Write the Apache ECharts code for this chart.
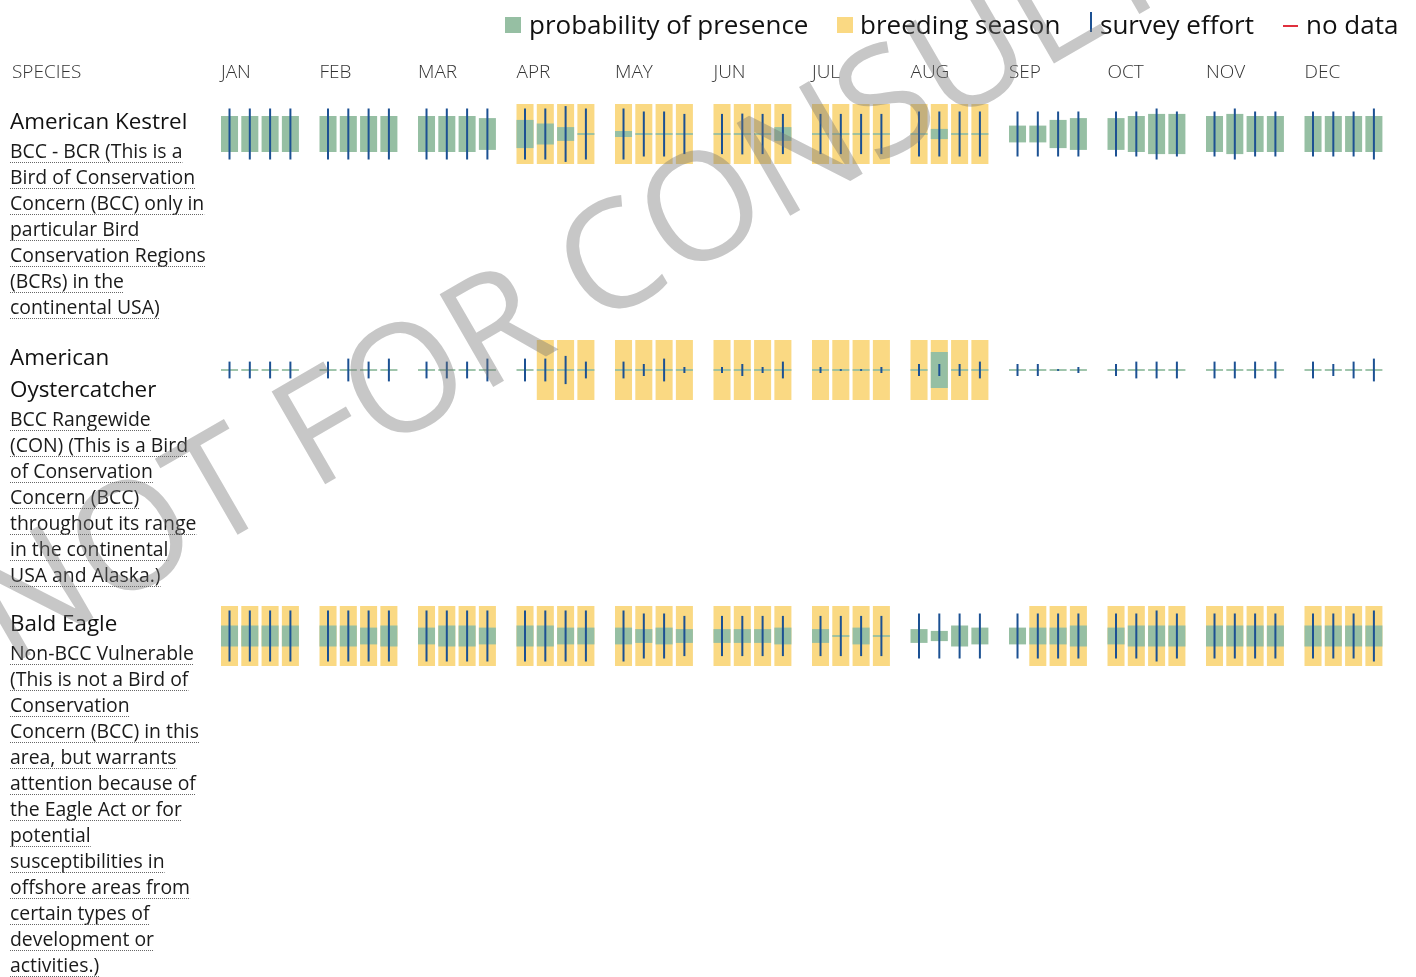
<!DOCTYPE html>
<html>
<head>
<meta charset="utf-8">
<style>
  html, body { margin: 0; padding: 0; background: #fff; }
  #chart { width: 1416px; height: 977px; }
</style>
<script src="https://cdn.jsdelivr.net/npm/echarts@6/dist/echarts.min.js"></script>
</head>
<body>
<div id="chart"></div>
<script>
const months = ['JAN', 'FEB', 'MAR', 'APR', 'MAY', 'JUN', 'JUL', 'AUG', 'SEP', 'OCT', 'NOV', 'DEC']

// probability of presence per week (share of the row height)
const kestrelPresence = [
  [0.6, 0.6, 0.6, 0.6], [0.6, 0.6, 0.6, 0.6], [0.6, 0.6, 0.6, 0.53], [0.47, 0.35, 0.23, 0.03],
  [0.1, 0.03, 0.03, 0.03], [0.03, 0.03, 0.03, 0.23], [0.03, 0.03, 0.03, 0.03], [0.03, 0.17, 0.03, 0.03],
  [0.28, 0.28, 0.47, 0.53], [0.53, 0.6, 0.67, 0.67], [0.6, 0.67, 0.6, 0.6], [0.6, 0.6, 0.6, 0.6]
]
const kestrelEffort = [
  [0.85, 0.85, 0.85, 0.85], [0.85, 0.85, 0.85, 0.85], [0.85, 0.85, 0.85, 0.85], [0.85, 0.85, 0.93, 0.85],
  [0.85, 0.75, 0.75, 0.67], [0.67, 0.68, 0.67, 0.67], [0.67, 0.67, 0.67, 0.67], [0.75, 0.75, 0.75, 0.75],
  [0.75, 0.75, 0.75, 0.75], [0.75, 0.75, 0.85, 0.75], [0.75, 0.85, 0.75, 0.75], [0.75, 0.75, 0.75, 0.85]
]
const kestrelBreeding = [
  [0, 0, 0, 0], [0, 0, 0, 0], [0, 0, 0, 0], [1, 1, 1, 1],
  [1, 1, 1, 1], [1, 1, 1, 1], [1, 1, 1, 1], [1, 1, 1, 1],
  [0, 0, 0, 0], [0, 0, 0, 0], [0, 0, 0, 0], [0, 0, 0, 0]
]

const oysterPresence = [
  [0.03, 0.03, 0.03, 0.03], [0.03, 0.03, 0.03, 0.03], [0.03, 0.03, 0.03, 0.03], [0.03, 0.03, 0.03, 0.03],
  [0.03, 0.03, 0.03, 0.03], [0.03, 0.03, 0.03, 0.03], [0.03, 0.03, 0.03, 0.03], [0.03, 0.6, 0.03, 0.03],
  [0.03, 0.03, 0.03, 0.03], [0.03, 0.03, 0.03, 0.03], [0.03, 0.03, 0.03, 0.03], [0.03, 0.03, 0.03, 0.03]
]
const oysterEffort = [
  [0.28, 0.28, 0.28, 0.28], [0.28, 0.38, 0.28, 0.38], [0.28, 0.28, 0.28, 0.38], [0.38, 0.38, 0.47, 0.28],
  [0.28, 0.2, 0.38, 0.1], [0.1, 0.2, 0.1, 0.28], [0.1, 0.03, 0.03, 0.1], [0.2, 0.2, 0.2, 0.28],
  [0.2, 0.2, 0.03, 0.1], [0.2, 0.28, 0.28, 0.28], [0.28, 0.28, 0.28, 0.28], [0.28, 0.2, 0.28, 0.38]
]
const oysterBreeding = [
  [0, 0, 0, 0], [0, 0, 0, 0], [0, 0, 0, 0], [0, 1, 1, 1],
  [1, 1, 1, 1], [1, 1, 1, 1], [1, 1, 1, 1], [1, 1, 1, 1],
  [0, 0, 0, 0], [0, 0, 0, 0], [0, 0, 0, 0], [0, 0, 0, 0]
]

const eaglePresence = [
  [0.35, 0.35, 0.35, 0.35], [0.35, 0.35, 0.28, 0.35], [0.28, 0.35, 0.35, 0.28], [0.35, 0.35, 0.28, 0.28],
  [0.28, 0.23, 0.28, 0.23], [0.23, 0.23, 0.23, 0.28], [0.23, 0.03, 0.28, 0.03], [0.23, 0.17, 0.35, 0.28],
  [0.28, 0.28, 0.28, 0.35], [0.28, 0.35, 0.35, 0.35], [0.35, 0.35, 0.35, 0.35], [0.35, 0.35, 0.35, 0.35]
]
const eagleEffort = [
  [0.85, 0.85, 0.85, 0.85], [0.85, 0.85, 0.85, 0.85], [0.85, 0.85, 0.85, 0.85], [0.85, 0.85, 0.85, 0.85],
  [0.85, 0.75, 0.75, 0.67], [0.67, 0.67, 0.67, 0.67], [0.67, 0.67, 0.67, 0.67], [0.75, 0.75, 0.75, 0.75],
  [0.75, 0.75, 0.75, 0.75], [0.75, 0.75, 0.85, 0.75], [0.75, 0.75, 0.75, 0.75], [0.75, 0.75, 0.75, 0.85]
]
const eagleBreeding = [
  [1, 1, 1, 1], [1, 1, 1, 1], [1, 1, 1, 1], [1, 1, 1, 1],
  [1, 1, 1, 1], [1, 1, 1, 1], [1, 1, 1, 1], [0, 0, 0, 0],
  [0, 1, 1, 1], [1, 1, 1, 1], [1, 1, 1, 1], [1, 1, 1, 1]
]

const species = [
  {
    title: ['American Kestrel'],
    desc: ['BCC - BCR (This is a', 'Bird of Conservation', 'Concern (BCC) only in', 'particular Bird',
      'Conservation Regions', '(BCRs) in the', 'continental USA)'],
    presence: kestrelPresence, effort: kestrelEffort, breeding: kestrelBreeding, top: 104
  },
  {
    title: ['American', 'Oystercatcher'],
    desc: ['BCC Rangewide', '(CON) (This is a Bird', 'of Conservation', 'Concern (BCC)',
      'throughout its range', 'in the continental', 'USA and Alaska.)'],
    presence: oysterPresence, effort: oysterEffort, breeding: oysterBreeding, top: 340
  },
  {
    title: ['Bald Eagle'],
    desc: ['Non-BCC Vulnerable', '(This is not a Bird of', 'Conservation', 'Concern (BCC) in this',
      'area, but warrants', 'attention because of', 'the Eagle Act or for', 'potential',
      'susceptibilities in', 'offshore areas from', 'certain types of', 'development or', 'activities.)'],
    presence: eaglePresence, effort: eagleEffort, breeding: eagleBreeding, top: 606
  }
]

const GREEN = '#96bfa3'
const YELLOW = '#fad983'
const BLUE = '#1c5193'
const RED = '#e0303d'
const FONT = '"Open Sans", "DejaVu Sans", sans-serif'
const WEEK_STEP = 0.206 // week offset inside a month (in month units)
const BAR_W = 0.173 // bar width (in month units)
const ROW_H = 60

// 测量文字宽度（下划线用）
const ctx = document.createElement('canvas').getContext('2d')
function textWidth (text, font) {
  ctx.font = font
  return ctx.measureText(text).width
}

function renderWeek (params, api) {
  const left = api.value(0) + api.value(1) * WEEK_STEP
  const p = api.value(2)
  const e = api.value(3)
  const tl = api.coord([left, 0.5])
  const br = api.coord([left + BAR_W, -0.5])
  const x = tl[0]
  const w = br[0] - tl[0]
  const cx = x + w / 2
  const pTop = api.coord([left, p / 2])[1]
  const pBot = api.coord([left, -p / 2])[1]
  const eTop = api.coord([left, e / 2])[1]
  const eBot = api.coord([left, -e / 2])[1]
  const children = []
  if (api.value(4)) {
    children.push({ type: 'rect', shape: { x: x, y: tl[1], width: w, height: br[1] - tl[1] }, style: { fill: YELLOW } })
  }
  children.push({ type: 'rect', shape: { x: x, y: pTop, width: w, height: pBot - pTop }, style: { fill: GREEN } })
  children.push({ type: 'line', shape: { x1: cx, y1: eTop, x2: cx, y2: eBot }, style: { stroke: BLUE, lineWidth: 2 } })
  return { type: 'group', children: children }
}

const grid = []
const xAxis = []
const yAxis = []
const series = []
const graphic = []

species.forEach((sp, i) => {
  grid.push({ left: 221, width: 1182, top: sp.top, height: ROW_H })
  xAxis.push({ type: 'value', gridIndex: i, min: 0, max: 12, show: false })
  yAxis.push({ type: 'value', gridIndex: i, min: -0.5, max: 0.5, show: false })
  const data = []
  months.forEach((m, mi) => {
    for (let w = 0; w < 4; w++) {
      data.push([mi, w, sp.presence[mi][w], sp.effort[mi][w], sp.breeding[mi][w]])
    }
  })
  series.push({
    type: 'custom',
    name: sp.title.join(' '),
    xAxisIndex: i,
    yAxisIndex: i,
    renderItem: renderWeek,
    encode: { x: 0, y: 2 },
    silent: true,
    data: data
  })

  // 左侧物种名称与说明
  let y = sp.top + 19
  sp.title.forEach((t, ti) => {
    if (ti > 0) y += 32
    graphic.push({ type: 'text', x: 10, y: y, style: { text: t, font: '22.4px ' + FONT, fill: '#111', verticalAlign: 'middle', textVerticalAlign: 'middle' } })
  })
  y += 29
  const descFont = '19.4px ' + FONT
  sp.desc.forEach(d => {
    graphic.push({ type: 'text', x: 10, y: y, style: { text: d, font: descFont, fill: '#1a1a1a', verticalAlign: 'middle', textVerticalAlign: 'middle' } })
    const uy = Math.round(y + 10) + 0.5
    graphic.push({
      type: 'line',
      shape: { x1: 10, y1: uy, x2: 10 + textWidth(d, descFont), y2: uy },
      style: { stroke: '#666', lineWidth: 1, lineDash: [1, 1] }
    })
    y += 26
  })
})

// 月份表头
grid.push({ left: 221, width: 1182, top: 73, height: 1 })
xAxis.push({
  type: 'value',
  gridIndex: 3,
  position: 'top',
  min: 0,
  max: 12,
  interval: 1,
  axisLine: { show: false },
  axisTick: { show: false },
  splitLine: { show: false },
  axisLabel: {
    margin: 0,
    align: 'left',
    verticalAlign: 'middle',
    fontSize: 19,
    fontFamily: FONT,
    fontWeight: 300,
    color: '#333',
    formatter: v => months[v] || ''
  }
})
yAxis.push({ type: 'value', gridIndex: 3, show: false })

graphic.push({ type: 'text', x: 12, y: 73, style: { text: 'SPECIES', font: '300 19px ' + FONT, fill: '#333', verticalAlign: 'middle', textVerticalAlign: 'middle' } })

// 图例
const legendFont = '26px ' + FONT
const LY = 27
graphic.push({ type: 'rect', shape: { x: 505, y: 17, width: 16, height: 16 }, style: { fill: GREEN } })
graphic.push({ type: 'text', x: 529, y: LY, style: { text: 'probability of presence', font: legendFont, fill: '#111', verticalAlign: 'middle', textVerticalAlign: 'middle' } })
graphic.push({ type: 'rect', shape: { x: 837, y: 17, width: 16, height: 16 }, style: { fill: YELLOW } })
graphic.push({ type: 'text', x: 860, y: LY, style: { text: 'breeding season', font: legendFont, fill: '#111', verticalAlign: 'middle', textVerticalAlign: 'middle' } })
graphic.push({ type: 'line', shape: { x1: 1091, y1: 12, x2: 1091, y2: 32 }, style: { stroke: BLUE, lineWidth: 2 } })
graphic.push({ type: 'text', x: 1100, y: LY, style: { text: 'survey effort', font: legendFont, fill: '#111', verticalAlign: 'middle', textVerticalAlign: 'middle' } })
graphic.push({ type: 'line', shape: { x1: 1283, y1: 26, x2: 1298, y2: 26 }, style: { stroke: RED, lineWidth: 2 } })
graphic.push({ type: 'text', x: 1306, y: LY, style: { text: 'no data', font: legendFont, fill: '#111', verticalAlign: 'middle', textVerticalAlign: 'middle' } })

// 水印
graphic.push({
  type: 'text',
  x: -13,
  y: 630,
  rotation: 30 * Math.PI / 180,
  z: 100,
  silent: true,
  style: {
    text: 'NOT FOR CONSULTATION',
    font: '150px ' + FONT,
    fill: 'rgba(115,115,115,0.4)',
    verticalAlign: 'middle',
    textVerticalAlign: 'middle',
    shadowColor: 'rgba(115,115,115,0.55)',
    shadowBlur: 10
  }
})

const chart = echarts.init(document.getElementById('chart'))
chart.setOption({
  backgroundColor: '#fff',
  animation: false,
  grid: grid,
  xAxis: xAxis,
  yAxis: yAxis,
  series: series,
  graphic: graphic
})
</script>
</body>
</html>
